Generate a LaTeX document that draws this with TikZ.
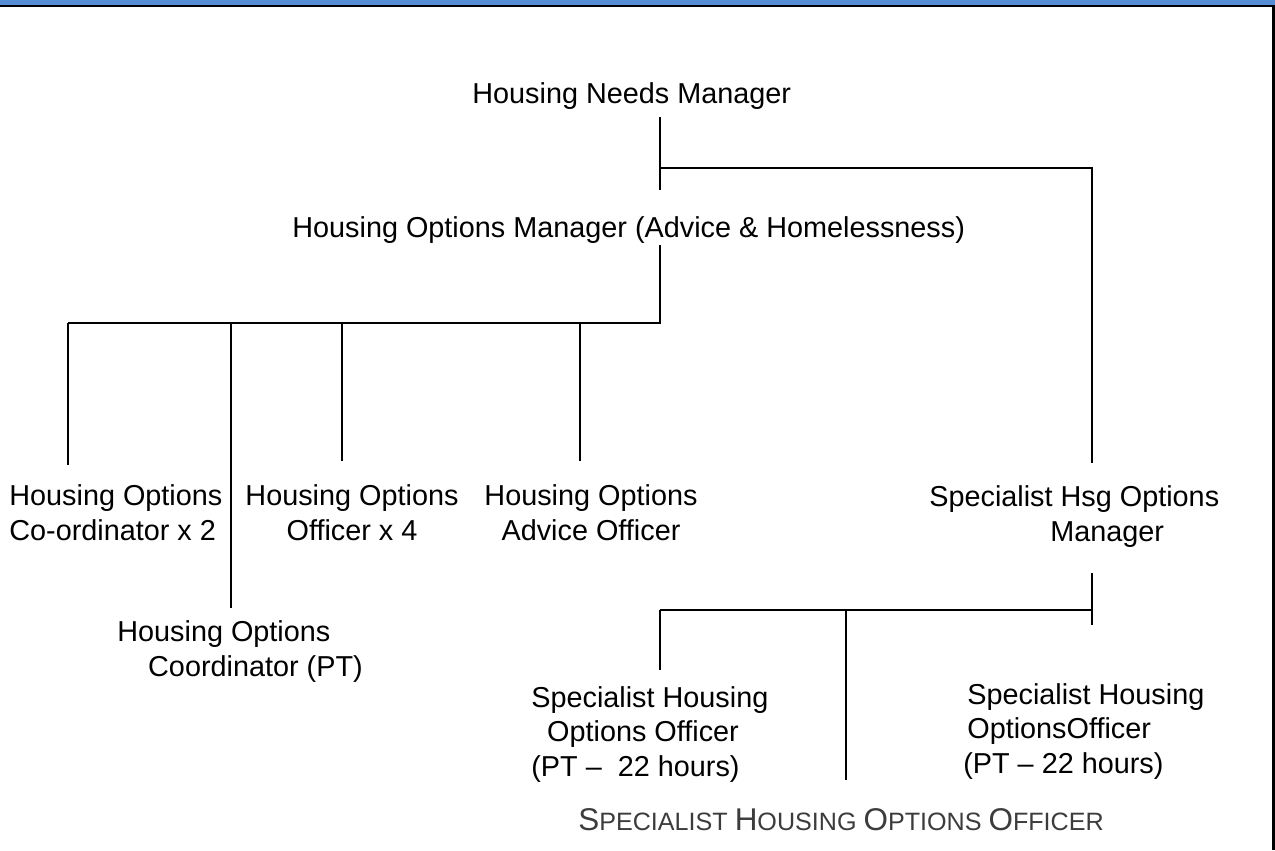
\documentclass[tikz,border=0pt]{standalone}
\usepackage{fontspec}
\setmainfont{Liberation Sans}
\usetikzlibrary{positioning}
\definecolor{hdrblue}{RGB}{85,142,213}
\definecolor{capgray}{RGB}{60,60,60}
\newcommand{\orgfont}{\fontsize{16.4pt}{19.4pt}\selectfont}
\newcommand{\capfont}{\fontsize{14.3pt}{17pt}\selectfont}
\newcommand{\capbig}[1]{{\fontsize{17.9pt}{20pt}\selectfont #1}}

\begin{document}
\begin{tikzpicture}[x=0.02cm,y=-0.02cm,
  post/.style={font=\orgfont,inner sep=0pt,anchor=base west,align=left},
  postc/.style={font=\orgfont,inner sep=0pt,anchor=base,align=center},
  link/.style={line width=0.04cm}]
\useasboundingbox (0,0) rectangle (1275,850);
% page frame
\fill[hdrblue] (0,0) rectangle (1275,4.5);
\draw[line width=0.05cm] (0,5.8) -- (1273.6,5.8) -- (1273.6,850);

% posts (base = last line)
\node[post] (needs) at (472,103) {Housing Needs Manager};
\node[post] (optmgr) at (292,237) {Housing Options Manager (Advice \& Homelessness)};
\node[post] (coordx2) at (9,540) {Housing Options\\Co-ordinator x 2};
\node[postc] (officer) at (352,540) {Housing Options\\Officer x 4};
\node[postc] (advice) at (591,540) {Housing Options\\Advice Officer};
\node[post] (specmgr) at (929,541) {Specialist Hsg Options\\\hspace*{4.2em}Manager};
\node[post] (coordpt) at (117,676) {Housing Options\\\hspace*{1.07em}Coordinator (PT)};
\node[post] (specoffa) at (531,776) {Specialist Housing\\\hspace*{0.55em}Options Officer\\(PT –\ \ 22 hours)};
\node[post] (specoffb) at (967,773) {Specialist Housing\\OptionsOfficer\\\hspace*{-0.14em}(PT – 22 hours)};
\node[post,font=\capfont,text=capgray] (team) at (578,830)
  {\capbig{S}PECIALIST \capbig{H}OUSING \capbig{O}PTIONS \capbig{O}FFICER};

% top level
\coordinate (topA) at (660,117);
\coordinate (topB) at (660,190);
\coordinate (topJ) at (660,168);
\coordinate (specTop) at (1092,463);
\draw[link] (topA) -- (topB);
\draw[link] (topJ) -| (specTop);

% options manager team
\coordinate (midA) at (660,245);
\coordinate (midJ) at (660,323);
\draw[link] (midA) -- (midJ) -- (68,323) coordinate (midL);
\foreach \x/\y [count=\i] in {68/465,231/608,342/461,580/461} {
  \coordinate (drop\i) at (\x,\y);
  \draw[link] (drop\i |- midJ) -- (drop\i);
}

% specialist team
\coordinate (lowA) at (1092,573);
\coordinate (lowB) at (1092,625);
\coordinate (lowJ) at (1092,610);
\draw[link] (lowA) -- (lowB);
\draw[link] (lowJ) -- (660,610) coordinate (lowL);
\foreach \x/\y [count=\i] in {660/670,846/780} {
  \coordinate (sub\i) at (\x,\y);
  \draw[link] (sub\i |- lowJ) -- (sub\i);
}
\end{tikzpicture}
\end{document}
